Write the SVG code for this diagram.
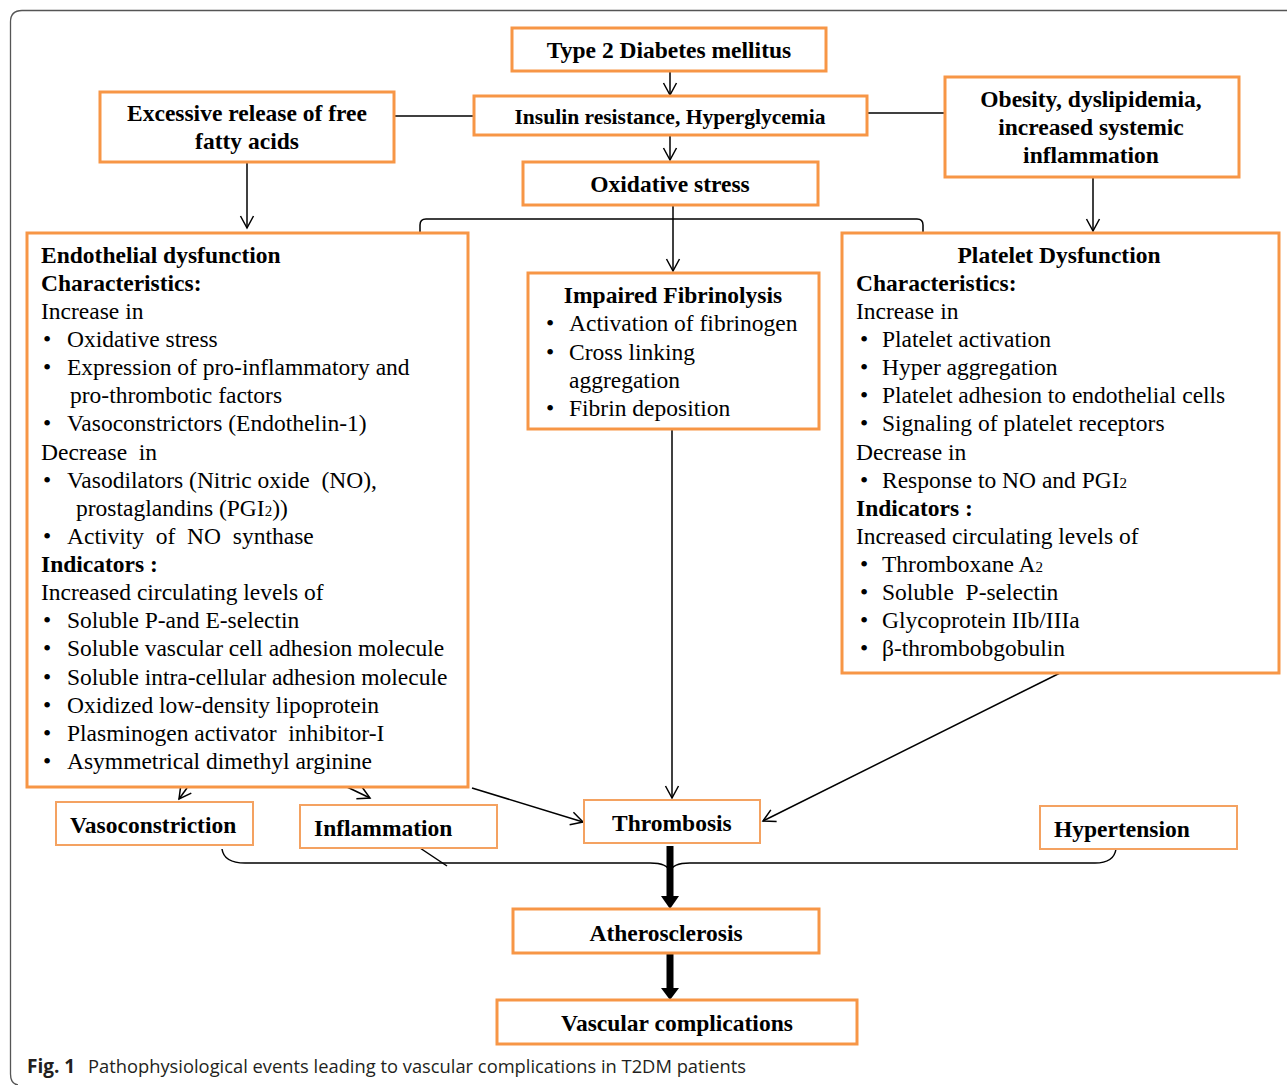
<svg xmlns="http://www.w3.org/2000/svg" width="1287" height="1085" viewBox="0 0 1287 1085">
<style>
.bg{fill:#ffffff}
.frame{fill:none;stroke:#555555;stroke-width:1.3}
.box{fill:#ffffff;stroke:#F79646;stroke-width:3}
.sbox{fill:#ffffff;stroke:#F4A261;stroke-width:2}
.t{font-family:"Liberation Serif","Times New Roman",serif;font-size:23.5px;fill:#000}
.b{font-weight:bold}
.c{text-anchor:middle}
.sub{font-size:15px}
.conn{fill:none;stroke:#000;stroke-width:1.5}
.thick{fill:none;stroke:#000;stroke-width:7}
.cap{font-family:"Open Sans","Noto Sans","Liberation Sans",sans-serif;font-size:19px;fill:#231f20}
</style>
<defs>
<marker id="arr" markerUnits="userSpaceOnUse" markerWidth="16" markerHeight="16" viewBox="0 0 16 16" refX="14" refY="8" orient="auto">
<path d="M2,1.5 L14,8 L2,14.5" fill="none" stroke="#000" stroke-width="1.5"/>
</marker>
</defs>
<rect class="bg" x="0" y="0" width="1287" height="1085"/>
<path class="frame" d="M1287,10.5 H22 Q10.5,10.5 10.5,22 V1074 Q10.5,1084 18,1085"/>

<g id="connectors">
<path class="conn" d="M670,71 V95" marker-end="url(#arr)"/>
<path class="conn" d="M670,135 V160" marker-end="url(#arr)"/>
<path class="conn" d="M394,116 H474"/>
<path class="conn" d="M867,113 H945"/>
<path class="conn" d="M247,162 V228" marker-end="url(#arr)"/>
<path class="conn" d="M1093,177 V231" marker-end="url(#arr)"/>
<path class="conn" d="M420,233 V225 Q420,219 426,219 H917 Q923,219 923,225 V233"/>
<path class="conn" d="M673,205 V271" marker-end="url(#arr)"/>
<path class="conn" d="M672,429 V798" marker-end="url(#arr)"/>
<path class="conn" d="M1060,673 L763,821" marker-end="url(#arr)"/>
<path class="conn" d="M472,788 L583,822" marker-end="url(#arr)"/>
<path class="conn" d="M187,788 L179,799" marker-end="url(#arr)"/>
<path class="conn" d="M347,787 L370,798" marker-end="url(#arr)"/>
<path class="conn" d="M222,849 Q224,863 245,863 H650 Q668,863 670,872 Q672,863 690,863 H1095 Q1114,863 1116,849"/>
<path class="conn" d="M420,848 L447,866"/>
<path class="thick" d="M670,846 V898"/>
<polygon points="661,896 679,896 670,909" fill="#000"/>
<path class="thick" d="M670,953 V989"/>
<polygon points="661,988 679,988 670,1000" fill="#000"/>
</g>

<g id="n-t2dm">
<rect class="box" x="512" y="28" width="314" height="43"/>
<text class="t b c" x="669" y="58">Type 2 Diabetes mellitus</text>
</g>
<g id="n-insulin">
<rect class="box" x="474" y="96" width="393" height="39"/>
<text class="t b c" x="670" y="124" style="font-size:20px" textLength="311" lengthAdjust="spacingAndGlyphs">Insulin resistance, Hyperglycemia</text>
</g>
<g id="n-ffa">
<rect class="box" x="100" y="92" width="294" height="70"/>
<text class="t b c" x="247" y="121">Excessive release  of free</text>
<text class="t b c" x="247" y="149">fatty acids</text>
</g>
<g id="n-obesity">
<rect class="box" x="945" y="77" width="294" height="100"/>
<text class="t b c" x="1091" y="107">Obesity, dyslipidemia,</text>
<text class="t b c" x="1091" y="135">increased systemic</text>
<text class="t b c" x="1091" y="163">inflammation</text>
</g>
<g id="n-oxidative">
<rect class="box" x="523" y="162" width="295" height="43"/>
<text class="t b c" x="670" y="192">Oxidative stress</text>
</g>

<g id="n-endothelial">
<rect class="box" x="27" y="233" width="441" height="554"/>
<text class="t b" x="41" y="263">Endothelial dysfunction</text>
<text class="t b" x="41" y="291">Characteristics:</text>
<text class="t" x="41" y="319">Increase in</text>
<text class="t" x="43" y="347">•</text><text class="t" x="67" y="347">Oxidative stress</text>
<text class="t" x="43" y="375">•</text><text class="t" x="67" y="375">Expression of pro-inflammatory and</text>
<text class="t" x="70" y="403">pro-thrombotic factors</text>
<text class="t" x="43" y="431">•</text><text class="t" x="67" y="431">Vasoconstrictors (Endothelin-1)</text>
<text class="t" x="41" y="460" xml:space="preserve">Decrease  in</text>
<text class="t" x="43" y="488">•</text><text class="t" x="67" y="488" xml:space="preserve">Vasodilators (Nitric oxide  (NO),</text>
<text class="t" x="76" y="516">prostaglandins (PGI<tspan class="sub">2</tspan>))</text>
<text class="t" x="43" y="544">•</text><text class="t" x="67" y="544" xml:space="preserve">Activity  of  NO  synthase</text>
<text class="t b" x="41" y="572">Indicators :</text>
<text class="t" x="41" y="600">Increased circulating levels of</text>
<text class="t" x="43" y="628">•</text><text class="t" x="67" y="628">Soluble P-and E-selectin</text>
<text class="t" x="43" y="656">•</text><text class="t" x="67" y="656">Soluble vascular cell adhesion molecule</text>
<text class="t" x="43" y="685">•</text><text class="t" x="67" y="685">Soluble intra-cellular adhesion molecule</text>
<text class="t" x="43" y="713">•</text><text class="t" x="67" y="713">Oxidized low-density lipoprotein</text>
<text class="t" x="43" y="741">•</text><text class="t" x="67" y="741" xml:space="preserve">Plasminogen activator  inhibitor-I</text>
<text class="t" x="43" y="769">•</text><text class="t" x="67" y="769">Asymmetrical dimethyl arginine</text>
</g>

<g id="n-fibrinolysis">
<rect class="box" x="528" y="273" width="291" height="156"/>
<text class="t b c" x="673" y="303">Impaired Fibrinolysis</text>
<text class="t" x="546" y="331">•</text><text class="t" x="569" y="331">Activation of fibrinogen</text>
<text class="t" x="546" y="360">•</text><text class="t" x="569" y="360">Cross linking</text>
<text class="t" x="569" y="388">aggregation</text>
<text class="t" x="546" y="416">•</text><text class="t" x="569" y="416">Fibrin deposition</text>
</g>

<g id="n-platelet">
<rect class="box" x="842" y="233" width="437" height="440"/>
<text class="t b c" x="1059" y="263">Platelet Dysfunction</text>
<text class="t b" x="856" y="291">Characteristics:</text>
<text class="t" x="856" y="319">Increase in</text>
<text class="t" x="860" y="347">•</text><text class="t" x="882" y="347">Platelet activation</text>
<text class="t" x="860" y="375">•</text><text class="t" x="882" y="375">Hyper aggregation</text>
<text class="t" x="860" y="403">•</text><text class="t" x="882" y="403">Platelet adhesion to endothelial cells</text>
<text class="t" x="860" y="431">•</text><text class="t" x="882" y="431">Signaling of platelet receptors</text>
<text class="t" x="856" y="460">Decrease in</text>
<text class="t" x="860" y="488">•</text><text class="t" x="882" y="488">Response to NO and PGI<tspan class="sub">2</tspan></text>
<text class="t b" x="856" y="516">Indicators :</text>
<text class="t" x="856" y="544">Increased circulating levels of</text>
<text class="t" x="860" y="572">•</text><text class="t" x="882" y="572">Thromboxane A<tspan class="sub">2</tspan></text>
<text class="t" x="860" y="600">•</text><text class="t" x="882" y="600" xml:space="preserve">Soluble  P-selectin</text>
<text class="t" x="860" y="628">•</text><text class="t" x="882" y="628">Glycoprotein IIb/IIIa</text>
<text class="t" x="860" y="656">•</text><text class="t" x="882" y="656">β-thrombobgobulin</text>
</g>

<g id="n-vasoconstriction">
<rect class="sbox" x="56" y="802" width="197" height="43"/>
<text class="t b" x="70" y="833">Vasoconstriction</text>
</g>
<g id="n-inflammation">
<rect class="sbox" x="300" y="805" width="197" height="43"/>
<text class="t b" x="314" y="836">Inflammation</text>
</g>
<g id="n-thrombosis">
<rect class="sbox" x="584" y="800" width="176" height="43"/>
<text class="t b" x="612" y="831">Thrombosis</text>
</g>
<g id="n-hypertension">
<rect class="sbox" x="1040" y="806" width="197" height="43"/>
<text class="t b" x="1054" y="837">Hypertension</text>
</g>
<g id="n-atherosclerosis">
<rect class="box" x="513" y="909" width="306" height="44"/>
<text class="t b c" x="666" y="941">Atherosclerosis</text>
</g>
<g id="n-vascular">
<rect class="box" x="497" y="1000" width="360" height="44"/>
<text class="t b c" x="677" y="1031">Vascular complications</text>
</g>

<text class="cap" x="27" y="1073"><tspan font-weight="bold">Fig. 1</tspan></text>
<text class="cap" x="88" y="1073" textLength="658" lengthAdjust="spacingAndGlyphs">Pathophysiological events leading to vascular complications in T2DM patients</text>
</svg>
